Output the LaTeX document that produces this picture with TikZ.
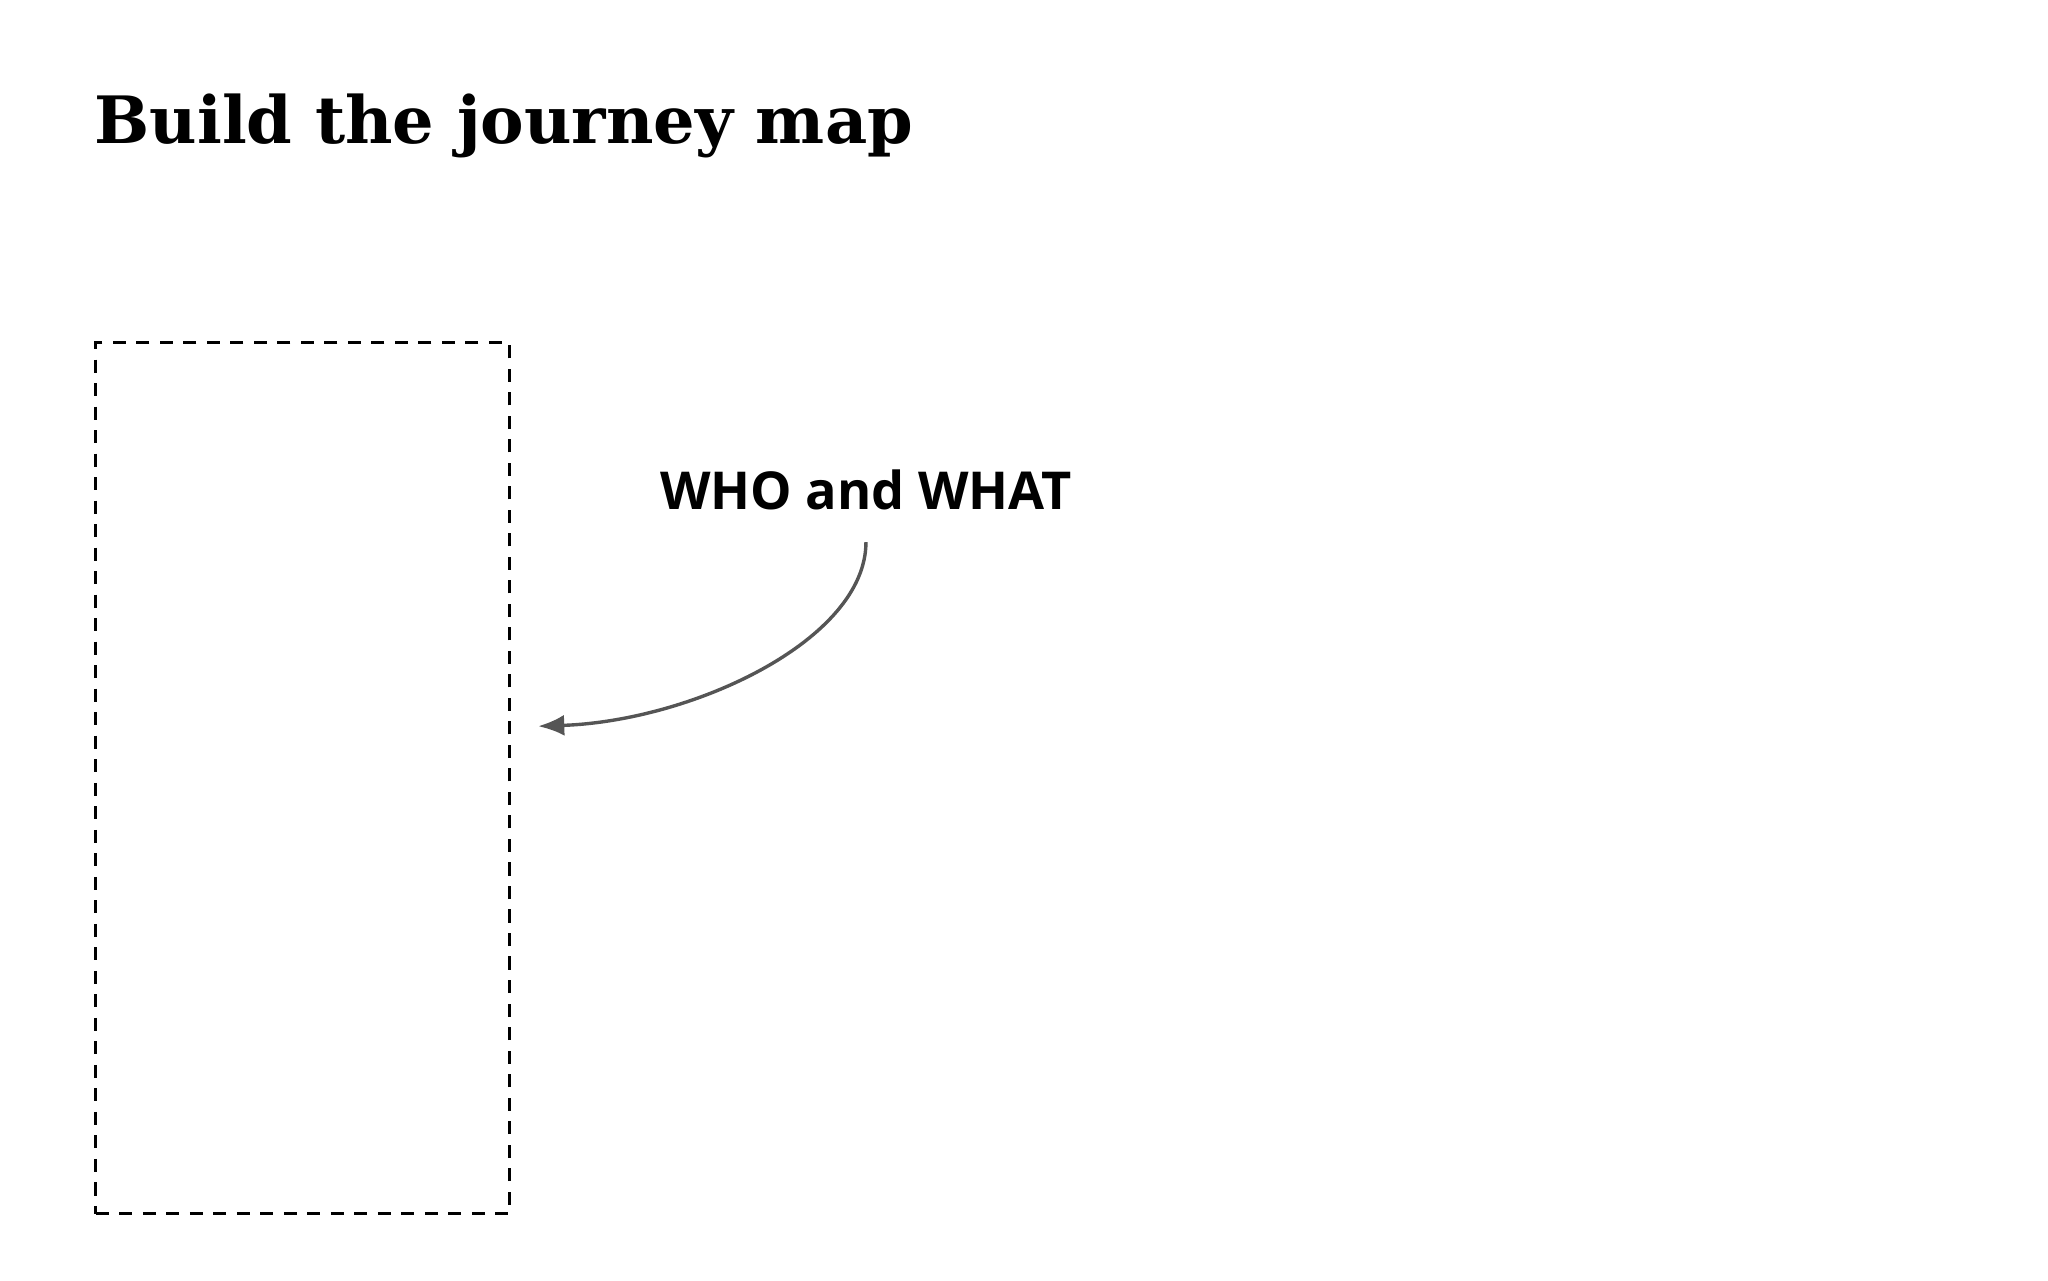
\documentclass[tikz,border=0pt]{standalone}
\usepackage{fontspec}
\newfontfamily\titlefont{DejaVu Serif}
\newfontfamily\labelfont{Open Sans}
\usetikzlibrary{arrows.meta}
\definecolor{arrowgray}{HTML}{555555}
\begin{document}
\begin{tikzpicture}[x=0.5pt,y=-0.5pt,
  titlestyle/.style={anchor=base west,inner sep=0pt,font=\titlefont\bfseries\fontsize{25}{30}\selectfont},
  labelstyle/.style={anchor=center,inner sep=0pt,font=\labelfont\bfseries\fontsize{20}{24}\selectfont},
  boxstyle/.style={draw=black,line width=1.3pt,dash pattern=on 5pt off 4pt},
  connstyle/.style={draw=arrowgray,line width=1.3pt,-{Latex[length=10pt,width=8pt]}}]
\useasboundingbox (0,0) rectangle (1568,980);
\node[titlestyle] (title) at (72,110) {Build the journey map};
\node[boxstyle,minimum width=158.5pt,minimum height=333.5pt,anchor=north west,inner sep=0pt] (box) at (72,261) {};
\node[labelstyle] (who) at (663,375) {WHO and WHAT};
\coordinate (start) at (663,415);
\coordinate (tip) at (412,556);
\draw[connstyle] (start) .. controls (663,490) and (530,552) .. (tip);
\end{tikzpicture}
\end{document}
